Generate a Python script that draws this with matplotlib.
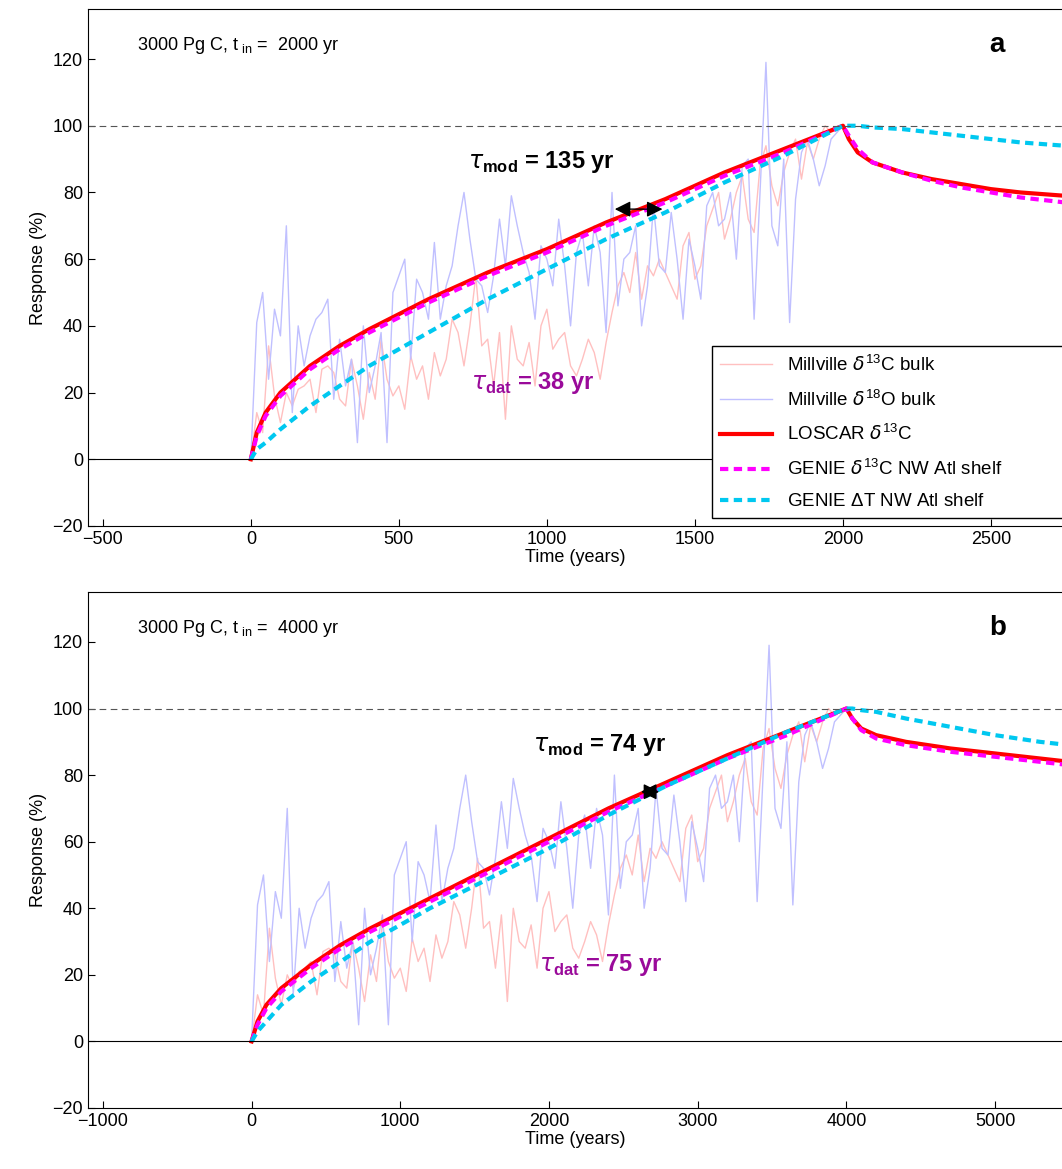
import numpy as np
import matplotlib
matplotlib.use('Agg')
import matplotlib.pyplot as plt

plt.rcParams['font.family'] = ['Liberation Sans', 'DejaVu Sans']
plt.rcParams['mathtext.fontset'] = 'custom'
plt.rcParams['mathtext.rm'] = 'Liberation Sans'
plt.rcParams['mathtext.bf'] = 'Liberation Sans:bold'

# Millville data, time as fraction of t_in (same record for both panels)
data_t = [0.0, 0.01, 0.02, 0.03, 0.04, 0.05, 0.06, 0.07, 0.08, 0.09, 0.10, 0.11, 0.12, 0.13,
          0.14, 0.15, 0.16, 0.17, 0.18, 0.19, 0.20, 0.21, 0.22, 0.23, 0.24, 0.25, 0.26, 0.27,
          0.28, 0.29, 0.30, 0.31, 0.32, 0.33, 0.34, 0.35, 0.36, 0.37, 0.38, 0.39, 0.40, 0.41,
          0.42, 0.43, 0.44, 0.45, 0.46, 0.47, 0.48, 0.49, 0.50, 0.51, 0.52, 0.53, 0.54, 0.55,
          0.56, 0.57, 0.58, 0.59, 0.60, 0.61, 0.62, 0.63, 0.64, 0.65, 0.66, 0.67, 0.68, 0.69,
          0.70, 0.71, 0.72, 0.73, 0.74, 0.75, 0.76, 0.77, 0.78, 0.79, 0.80, 0.81, 0.82, 0.83,
          0.84, 0.85, 0.86, 0.87, 0.88, 0.89, 0.90, 0.91, 0.92, 0.93, 0.94, 0.95, 0.96, 0.97,
          0.98, 1.0]
d13c = [0, 14, 8, 34, 19, 11, 20, 16, 21, 22, 24, 14, 27, 28, 26, 18, 16, 30, 22, 12,
        26, 18, 36, 24, 19, 22, 15, 31, 24, 28, 18, 32, 25, 30, 42, 38, 28, 40, 55, 34,
        36, 22, 38, 12, 40, 30, 28, 35, 22, 40, 45, 33, 36, 38, 28, 25, 30, 36, 32, 24,
        35, 44, 52, 56, 50, 62, 48, 58, 55, 60, 56, 52, 48, 64, 68, 54, 58, 70, 75, 80,
        66, 72, 80, 85, 72, 68, 88, 94, 82, 76, 86, 92, 96, 84, 95, 90, 96, 100, 98, 100]
d18o = [0, 41, 50, 24, 45, 37, 70, 14, 40, 28, 37, 42, 44, 48, 18, 36, 22, 30, 5, 40,
        20, 28, 38, 5, 50, 55, 60, 30, 54, 50, 42, 65, 42, 52, 58, 70, 80, 66, 54, 52,
        44, 55, 72, 58, 79, 70, 62, 56, 42, 64, 60, 52, 72, 58, 40, 62, 68, 52, 70, 62,
        38, 80, 46, 60, 62, 70, 40, 52, 76, 58, 56, 74, 60, 42, 66, 58, 48, 76, 80, 70,
        72, 80, 60, 88, 90, 42, 80, 119, 70, 64, 90, 41, 78, 92, 96, 90, 82, 88, 96, 100]

# model curves, panel a (years, %)
a_t = [0, 20, 50, 100, 200, 300, 400, 600, 800, 1000, 1200, 1400, 1600, 1800, 2000,
       2020, 2050, 2100, 2200, 2300, 2400, 2500, 2600, 2750]
a_loscar = [0, 8, 14, 20, 28, 34, 39, 48, 56, 63, 71, 78, 86, 93, 100,
            96, 92, 89, 86, 84, 82.5, 81, 80, 79]
a_genie13 = [0, 7, 13, 19, 27, 33, 38, 47, 55, 62, 70, 77, 85, 92, 100,
             97, 93, 89, 86, 83.5, 81.5, 80, 78.5, 77]
a_genieT = [0, 3, 5, 9, 16, 22, 28, 38, 48, 57, 66, 74, 83, 91, 100,
            100, 100, 99.5, 99, 98, 97, 96, 95, 94]

# model curves, panel b
b_t = [0, 40, 100, 200, 400, 600, 800, 1200, 1600, 2000, 2400, 2800, 3200, 3600, 4000,
       4040, 4100, 4200, 4400, 4700, 5000, 5300, 5500]
b_loscar = [0, 6, 11, 16, 23, 29, 34, 43, 52, 61, 70, 78, 86, 93, 100,
            97, 94, 92, 90, 88, 86.5, 85, 84]
b_genie13 = [0, 5, 10, 15, 22, 28, 33, 42, 51, 60, 69, 77, 85, 92, 100,
             97, 93.5, 91, 89, 87, 85.5, 84, 83]
b_genieT = [0, 3, 6, 11, 18, 24, 30, 40, 49, 58, 68, 77, 85, 93, 100,
            100, 99.5, 99, 97, 94.5, 92, 90, 89]

panels = [
    dict(tin=2000, t=a_t, lo=a_loscar, g13=a_genie13, gT=a_genieT, xlim=(-550, 2740),
         xticks=[-500, 0, 500, 1000, 1500, 2000, 2500], letter='a', pos=[88, 9, 526],
         mod='135', dat='38', mod_xy=(735, 89), dat_xy=(745, 23), arrow=(1220, 1400, 75, 24)),
    dict(tin=4000, t=b_t, lo=b_loscar, g13=b_genie13, gT=b_genieT, xlim=(-1100, 5450),
         xticks=[-1000, 0, 1000, 2000, 3000, 4000, 5000], letter='b', pos=[88, 592, 1108],
         mod='74', dat='75', mod_xy=(1890, 89), dat_xy=(1930, 23), arrow=(2600, 2760, 75, 24)),
]

W, H = 1062, 1169
fig = plt.figure(figsize=(W / 100, H / 100), dpi=100)

for i, p in enumerate(panels):
    left, top, bot = p['pos']
    ax = fig.add_axes([left / W, 1 - bot / H, 1 - left / W, (bot - top) / H])
    ax.spines['right'].set_visible(False)
    tt = np.array(data_t) * p['tin']
    ax.plot(tt, d13c, color='#ffc0c0', lw=1, label=r'Millville $\delta^{13}$C bulk')
    ax.plot(tt, d18o, color='#c0c0ff', lw=1, label=r'Millville $\delta^{18}$O bulk')
    ax.plot(p['t'], p['lo'], color='red', lw=3, label=r'LOSCAR $\delta^{13}$C')
    ax.plot(p['t'], p['g13'], color='magenta', lw=3, ls=(0, (2, 1.3)),
            label=r'GENIE $\delta^{13}$C NW Atl shelf')
    ax.plot(p['t'], p['gT'], color='#00c8f0', lw=3, ls=(0, (2, 1.3)),
            label=r'GENIE $\Delta$T NW Atl shelf')
    ax.axhline(100, color='#555555', lw=0.8, ls=(0, (6, 4)))
    ax.axhline(0, color='black', lw=0.8)
    ax.set_xlim(p['xlim'])
    ax.set_ylim(-20, 135)
    ax.set_xticks(p['xticks'])
    ax.set_yticks(range(-20, 121, 20))
    ax.tick_params(direction='in', labelsize=13, length=5)
    ax.set_xlabel('Time (years)', fontsize=13, labelpad=1)
    ax.set_ylabel('Response (%)', fontsize=13)
    ax.text(0.05, 0.93, r'3000 Pg C, t$_{\rm\ in}$ =  %d yr' % p['tin'],
            transform=ax.transAxes, fontsize=13, va='center')
    ax.text(0.925, 0.93, p['letter'], transform=ax.transAxes, fontsize=20,
            fontweight='bold', va='center')
    ax.text(*p['mod_xy'], r'$\tau_{\mathbf{mod}}$ = %s yr' % p['mod'],
            fontsize=17, fontweight='bold', color='black', va='center')
    ax.text(*p['dat_xy'], r'$\tau_{\mathbf{dat}}$ = %s yr' % p['dat'],
            fontsize=17, fontweight='bold', color='#9a0a9a', va='center')
    x0, x1, ya, ms = p['arrow']
    ax.annotate('', xy=(x0, ya), xytext=(x1, ya),
                arrowprops=dict(arrowstyle='<|-|>', color='black', lw=1, mutation_scale=ms))
    if i == 0:
        ax.legend(loc='lower left', bbox_to_anchor=(712 / W, 1 - 518 / H, 0.4, 181 / H),
                  bbox_transform=fig.transFigure, mode='expand', fontsize=13.5,
                  fancybox=False, edgecolor='black', framealpha=1, handlelength=2.8,
                  borderpad=0.4, labelspacing=0.75, borderaxespad=0)

fig.savefig('out.png', dpi=100)
